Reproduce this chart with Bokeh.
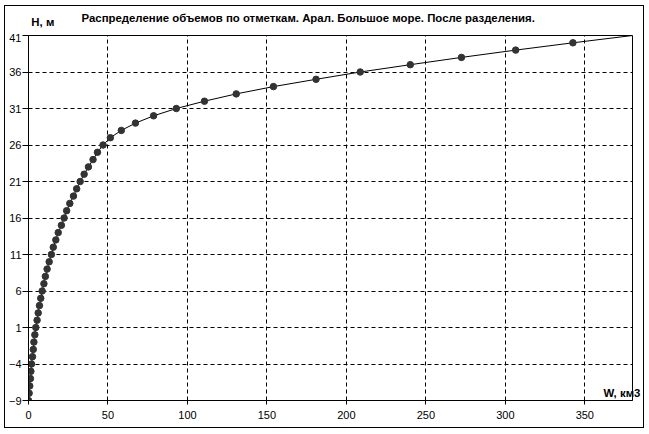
from bokeh.plotting import figure
from bokeh.layouts import column
from bokeh.models import FixedTicker, Label, Range1d, LinearAxis
from bokeh.core.properties import value
from bokeh.embed import file_html
from bokeh.resources import INLINE

# Heights (m) and volumes (km3)
H = [-9, -8, -7, -6, -5, -4, -3, -2, -1, 0,
     1, 2, 3, 4, 5, 6, 7, 8, 9, 10,
     11, 12, 13, 14, 15, 16, 17, 18, 19, 20,
     21, 22, 23, 24, 25, 26, 27, 28, 29, 30,
     31, 32, 33, 34, 35, 36, 37, 38, 39, 40, 41]
W = [0.0, 0.4, 0.8, 1.2, 1.5, 1.9, 2.5, 3.0, 3.4, 4.0,
     4.6, 5.4, 6.1, 6.9, 7.7, 8.6, 9.7, 10.6, 11.7, 13.0,
     14.4, 15.6, 17.2, 18.7, 20.7, 22.4, 24.0, 26.0, 28.3, 30.3,
     32.5, 35.0, 37.7, 40.6, 43.4, 46.9, 51.5, 58.4, 67.3, 78.7,
     93.0, 110.7, 130.7, 154.1, 180.9, 208.7, 240.2, 272.4, 306.5, 342.5, 380.0]

x_ticks = [0, 50, 100, 150, 200, 250, 300, 350]
y_ticks = [-9, -4, 1, 6, 11, 16, 21, 26, 31, 36, 41]

title_text = "Распределение объемов по отметкам. Арал. Большое море. После разделения."
y_name = "H, м"
x_name = "W, км3"

FONT = "Liberation Sans"
WIDTH = 638

# ---- header strip with the title and the y-axis name ----
hdr = figure(width=WIDTH, height=27, output_backend="svg", toolbar_location=None,
             x_range=Range1d(0, WIDTH), y_range=Range1d(27, 0),
             x_axis_type=None, y_axis_type=None,
             min_border_left=0, min_border_right=0, min_border_top=0, min_border_bottom=0)
hdr.outline_line_color = None
hdr.background_fill_color = "white"
hdr.border_fill_color = "white"
hdr.text(x=[56], y=[11.5], text=[title_text], text_font=value(FONT),
         text_font_size="11.4px", text_font_style="bold", text_color="black",
         text_baseline="middle", text_align="left")
hdr.text(x=[3], y=[15.7], text=[y_name], text_font=value(FONT),
         text_font_size="11.4px", text_font_style="bold", text_color="black",
         text_baseline="middle", text_align="left")

# ---- main plot ----
p = figure(width=WIDTH, height=394, output_backend="svg", toolbar_location=None,
           x_range=Range1d(0, 380), y_range=Range1d(-9, 41),
           min_border_left=22, min_border_right=11, min_border_top=2, min_border_bottom=27)
p.background_fill_color = "white"
p.border_fill_color = "white"
p.outline_line_color = "black"
p.outline_line_width = 1

for ax, ticks in ((p.xaxis, x_ticks), (p.yaxis, y_ticks)):
    ax.ticker = FixedTicker(ticks=ticks)
    ax.minor_tick_line_color = None
    ax.axis_line_color = "black"
    ax.major_tick_line_color = "black"
    ax.major_label_text_font = FONT
    ax.major_label_text_font_size = "11px"
    ax.major_label_text_color = "black"
    ax.major_tick_in = 0
p.yaxis.major_tick_out = 6
p.yaxis.major_label_standoff = 1
p.xaxis.major_tick_out = 4
p.xaxis.major_label_standoff = 6

# x-axis name, drawn as the single label of a bare right-hand axis
name_axis = LinearAxis(ticker=FixedTicker(ticks=[-8]),
                       major_label_overrides={-8: x_name},
                       axis_line_color=None, major_tick_line_color=None,
                       minor_tick_line_color=None, major_tick_out=0, major_tick_in=0,
                       major_label_standoff=-29,
                       major_label_text_font=FONT, major_label_text_font_size="11.4px",
                       major_label_text_font_style="bold", major_label_text_color="black")
p.add_layout(name_axis, "right")

p.grid.grid_line_color = "black"
p.grid.grid_line_dash = "4 3"
p.grid.grid_line_width = 1

p.line(W, H, line_color="black", line_width=1)
p.scatter(W[:-1], H[:-1], size=6.5, marker="circle", fill_color="#333333", line_color="#333333")

layout = column(hdr, p, spacing=0)
layout.styles = {"border": "1px solid black", "margin-left": "4px", "margin-top": "5px"}

open("out.html", "w").write(file_html(layout, INLINE))
